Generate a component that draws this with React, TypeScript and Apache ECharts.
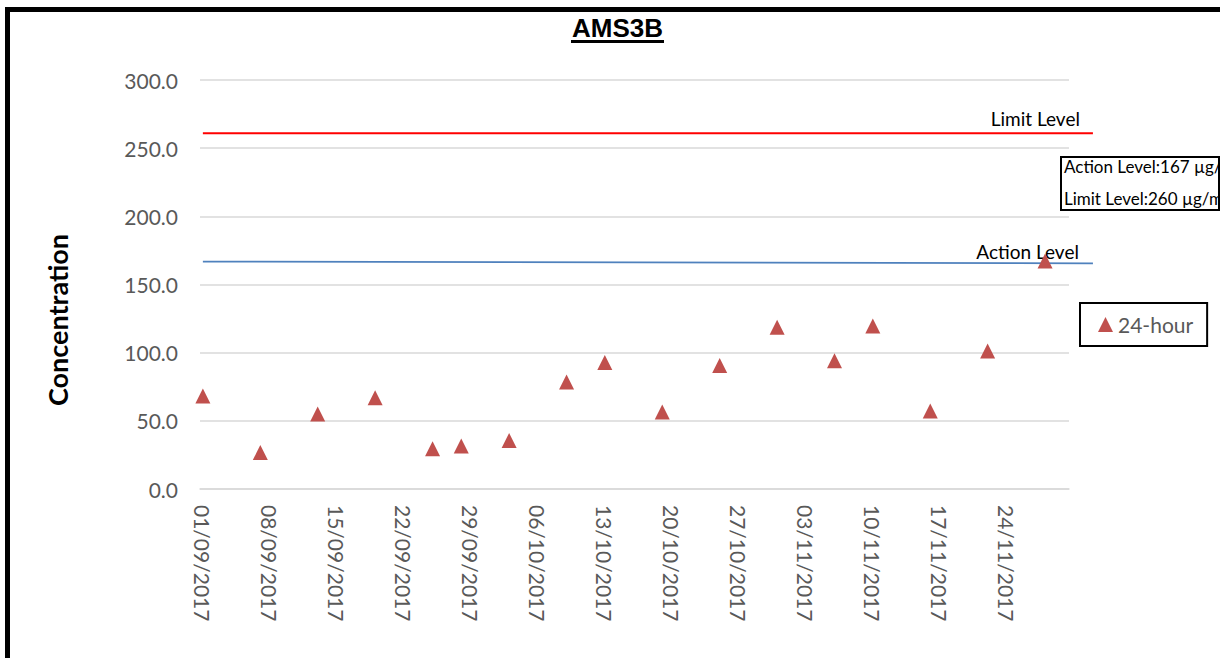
import React, { useEffect, useRef } from "react";
import * as echarts from "echarts";

const sampleDates = [
  "2017-09-01", "2017-09-07", "2017-09-13", "2017-09-19", "2017-09-25", "2017-09-28",
  "2017-10-03", "2017-10-09", "2017-10-13", "2017-10-19", "2017-10-25", "2017-10-31",
  "2017-11-06", "2017-11-10", "2017-11-16", "2017-11-22", "2017-11-28",
];
const concentration24h = [
  68.2, 26.7, 55.1, 66.9, 29.5, 31.5, 35.6, 78.4, 92.7, 56.5, 90.6, 118.6, 94.1, 119.6, 57.3, 101.2, 167.2,
];
const tickDates = [
  "2017-09-01", "2017-09-08", "2017-09-15", "2017-09-22", "2017-09-29", "2017-10-06", "2017-10-13",
  "2017-10-20", "2017-10-27", "2017-11-03", "2017-11-10", "2017-11-17", "2017-11-24",
];
const levelLineDates = ["2017-09-01", "2017-12-03"];
const limitLevel = [261, 261];
const actionLevel = [166.8, 165.5];
const yTicks = [0, 50, 100, 150, 200, 250, 300];
const titleText = "AMS3B";
const yAxisTitle = "Concentration";
const seriesName = "24-hour";
const limitLabel = "Limit Level";
const actionLabel = "Action Level";
const noteLines = ["Action Level:167 µg/m3", "Limit Level:260 µg/m3"];

const DAY = 86400000;
const BASE = "2017-09-01";
const toTime = (s: string) => {
  const [y, m, d] = s.split("-").map(Number);
  return Date.UTC(y, m - 1, d);
};
const toDay = (s: string) => Math.round((toTime(s) - toTime(BASE)) / DAY);
const pad = (n: number) => (n < 10 ? "0" + n : "" + n);
const fmtDay = (v: number) => {
  const d = new Date(toTime(BASE) + Math.round(v) * DAY);
  return pad(d.getUTCDate()) + "/" + pad(d.getUTCMonth() + 1) + "/" + d.getUTCFullYear();
};

export default function App() {
  const ref = useRef<HTMLDivElement>(null);
  useEffect(() => {
    if (!ref.current) return;
    const chart = echarts.init(ref.current, null, { renderer: "svg" });
    const grey = "#595959";
    const xMin = -0.3;
    const xMax = toDay("2017-11-30") + 0.5;
    const pxPerDay = (1069 - 200) / (xMax - xMin);
    const x2Max = xMin + (1220 - 124 - 200) / pxPerDay;
    const noteStyle = { fontFamily: "Lato", fontSize: 17, fontWeight: "normal", color: "#000" };
    const option: any = {
      animation: false,
      backgroundColor: "#ffffff",
      title: [
        { text: noteLines[0], left: 1064, top: 158, padding: 0, textStyle: noteStyle, z: 10 },
        { text: noteLines[1], left: 1064, top: 190, padding: 0, textStyle: noteStyle, z: 10 },
      ],
      grid: [
        { left: 200, right: 151, top: 80, bottom: 169, containLabel: false },
        { left: 200, right: 124, top: 80, bottom: 169, containLabel: false },
      ],
      legend: {
        data: [seriesName],
        left: 1080,
        top: 303,
        orient: "vertical",
        padding: [11, 14, 11, 18],
        itemWidth: 15,
        itemHeight: 15,
        icon: "triangle",
        borderColor: "#000",
        borderWidth: 2,
        textStyle: { fontFamily: "Lato", fontSize: 21, color: grey },
      },
      xAxis: [
        {
          type: "value",
          gridIndex: 0,
          min: xMin,
          max: xMax,
          axisLine: { show: true, onZero: false, lineStyle: { color: "#D9D9D9", width: 1.5 } },
          axisTick: { show: false },
          splitLine: { show: false },
          axisLabel: {
            customValues: tickDates.map(toDay),
            rotate: -90,
            margin: 16,
            formatter: (v: number) => fmtDay(v),
            fontFamily: "Lato",
            fontSize: 21,
            color: grey,
          },
        },
        {
          type: "value",
          gridIndex: 1,
          min: xMin,
          max: x2Max,
          show: false,
        },
      ],
      yAxis: [
        {
          type: "value",
          gridIndex: 0,
          min: yTicks[0],
          max: yTicks[yTicks.length - 1],
          interval: yTicks[1] - yTicks[0],
          axisLine: { show: false },
          axisTick: { show: false },
          splitLine: { show: true, lineStyle: { color: "#D9D9D9", width: 1.5 } },
          axisLabel: {
            margin: 22,
            formatter: (v: number) => v.toFixed(1),
            fontFamily: "Lato",
            fontSize: 21,
            color: grey,
          },
        },
        {
          type: "value",
          gridIndex: 1,
          min: yTicks[0],
          max: yTicks[yTicks.length - 1],
          show: false,
          splitLine: { show: false },
        },
      ],
      series: [
        {
          name: limitLabel,
          type: "line",
          xAxisIndex: 1,
          yAxisIndex: 1,
          showSymbol: false,
          silent: true,
          data: levelLineDates.map((d, i) => [toDay(d), limitLevel[i]]),
          lineStyle: { color: "#FF0000", width: 2 },
          itemStyle: { color: "#FF0000" },
          endLabel: {
            show: true,
            formatter: () => limitLabel,
            distance: 0,
            align: "right",
            verticalAlign: "middle",
            offset: [-13, -15],
            fontFamily: "Lato",
            fontSize: 19,
            color: "#000",
          },
        },
        {
          name: actionLabel,
          type: "line",
          xAxisIndex: 1,
          yAxisIndex: 1,
          showSymbol: false,
          silent: true,
          data: levelLineDates.map((d, i) => [toDay(d), actionLevel[i]]),
          lineStyle: { color: "#4F81BD", width: 1.75 },
          itemStyle: { color: "#4F81BD" },
          endLabel: {
            show: true,
            formatter: () => actionLabel,
            distance: 0,
            align: "right",
            verticalAlign: "middle",
            offset: [-14, -12],
            fontFamily: "Lato",
            fontSize: 19,
            color: "#000",
          },
        },
        {
          name: seriesName,
          type: "scatter",
          xAxisIndex: 0,
          yAxisIndex: 0,
          symbol: "triangle",
          symbolSize: 15,
          itemStyle: { color: "#C0504D", opacity: 1 },
          data: sampleDates.map((d, i) => [toDay(d), concentration24h[i]]),
          z: 5,
        },
      ],
      graphic: [
        {
          type: "rect",
          shape: { x: 7.5, y: 9.5, width: 1400, height: 900 },
          style: { fill: "none", stroke: "#000", lineWidth: 5 },
          silent: true,
        },
        {
          type: "text",
          x: 617.5,
          y: 28,
          style: {
            text: titleText,
            fontFamily: "Liberation Sans",
            fontWeight: "bold",
            fontSize: 26,
            fill: "#000",
            textAlign: "center",
            textVerticalAlign: "middle",
          },
        },
        {
          type: "line",
          shape: { x1: 571, y1: 41.5, x2: 664, y2: 41.5 },
          style: { stroke: "#000", lineWidth: 3 },
        },
        {
          type: "text",
          x: 57,
          y: 320,
          rotation: Math.PI / 2,
          style: {
            text: yAxisTitle,
            fontFamily: "Lato",
            fontWeight: "bold",
            fontSize: 27,
            fill: "#000",
            textAlign: "center",
            textVerticalAlign: "middle",
          },
        },
        {
          type: "rect",
          z: -1,
          shape: { x: 1061, y: 157, width: 158, height: 53 },
          style: { fill: "#fff", stroke: "#000", lineWidth: 2 },
        },
      ],
    };
    chart.setOption(option);
    return () => chart.dispose();
  }, []);
  return (
    <div
      ref={ref}
      style={{ position: "fixed", left: 0, top: 0, width: 1220, height: 658, background: "#fff" }}
    />
  );
}
